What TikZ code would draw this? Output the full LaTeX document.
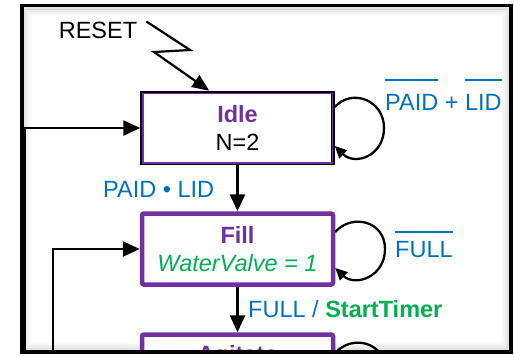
\documentclass[tikz,border=0pt]{standalone}
\usepackage{fontspec}
\setmainfont{Liberation Sans}
\usetikzlibrary{arrows.meta,calc}
\definecolor{stpurple}{RGB}{112,48,160}
\definecolor{stblue}{RGB}{0,112,192}
\definecolor{stgreen}{RGB}{0,176,80}
\newcommand\ovl[2][12pt]{\vbox{\hrule height 2.8pt\kern #1\hbox{#2}}}
\begin{document}
\begin{tikzpicture}[x=1pt,y=-1pt,
  every node/.style={font=\fontsize{23.5}{28}\selectfont, inner sep=2pt},
  state/.style={rectangle, fill=white, align=center, inner sep=0pt,
    minimum width=191pt, minimum height=71pt},
  wire/.style={line width=2.6pt},
  arr/.style={wire, -{Triangle[length=17pt,width=15pt]}},
  selfloop/.style={line width=2.3pt, -{Triangle[length=12pt,width=11pt]}},
  lbl/.style={text=stblue, inner sep=0pt, anchor=base west},
]
\useasboundingbox (0,0) rectangle (514,357);
\fill[white] (0,0) rectangle (514,357);
\begin{scope}
\clip (0,0) rectangle (514,352);
% soft inner shadow of the frame
\foreach \d/\o in {3/0.22,5/0.14,7/0.08,9/0.04}{
  \draw[gray, line width=2.2pt, opacity=\o] (22+\d,5.5+\d) rectangle (511-\d,352-\d);
}
% states
\node[state, draw=black, line width=3.5pt] (idle) at (237.5,128)
  {\textcolor{stpurple}{\bfseries Idle}\\N=2};
\draw[stpurple, line width=1.5pt]
  ([shift={(2.5pt,-2.5pt)}]idle.north west) rectangle ([shift={(-2.5pt,2.5pt)}]idle.south east);
\node[state, draw=stpurple, line width=4.5pt, rounded corners=2pt] (fill) at (237.5,249)
  {\textcolor{stpurple}{\bfseries Fill}\\\textcolor{stgreen}{\itshape WaterValve = 1}};
\node[state, draw=stpurple, line width=4.5pt, rounded corners=2pt] (agitate) at (237.5,370) {};
\node[anchor=base, text=stpurple, font=\fontsize{23.5}{28}\selectfont\bfseries] (agtxt) at (237.5,362) {Agitate};
% reset
\node (reset) at (98,30) {RESET};
\draw[line width=2.2pt, -{Triangle[length=17pt,width=14pt]}]
  ([shift={(7pt,-2pt)}]reset.north east) -- (190,50) -- (154,52) -- ([xshift=69pt]idle.north west);
% transitions
\draw[arr] (idle.south) -- (fill.north);
\draw[arr] (fill.south) -- (agitate.north);
\coordinate (lw) at (24.5,365);
\draw[arr] (lw) |- (idle.west);
\coordinate (fw) at (53,365);
\draw[arr] (fw) |- (fill.west);
% self loops
\draw[selfloop] ([yshift=21pt]idle.east) .. controls (352,88) and (384,100) .. (384,128)
  .. controls (384,156) and (355,166) .. ([yshift=-18pt]idle.east);
\draw[selfloop] ([yshift=17pt]fill.east) .. controls (352,213) and (385,221) .. (385,249)
  .. controls (385,277) and (355,287) .. ([yshift=-19pt]fill.east);
\draw[selfloop] ([yshift=17pt]agitate.east) .. controls (352,334) and (385,342) .. (385,370)
  .. controls (385,398) and (355,408) .. ([yshift=-19pt]agitate.east);
% labels
\node[lbl] (g1) at (385,110) {\ovl[12.5pt]{PAID} + \ovl[12.5pt]{LID}};
\node[lbl] (g2) at (103,197) {PAID • LID};
\node[lbl] (g3) at (395,257) {\ovl[7.5pt]{FULL}};
\node[lbl] (g4) at (248,317) {FULL / \textcolor{stgreen}{\bfseries StartTimer}};
\end{scope}
% frame
\draw[line width=3.5pt] (22,5.5) rectangle (511,352);
\end{tikzpicture}
\end{document}
